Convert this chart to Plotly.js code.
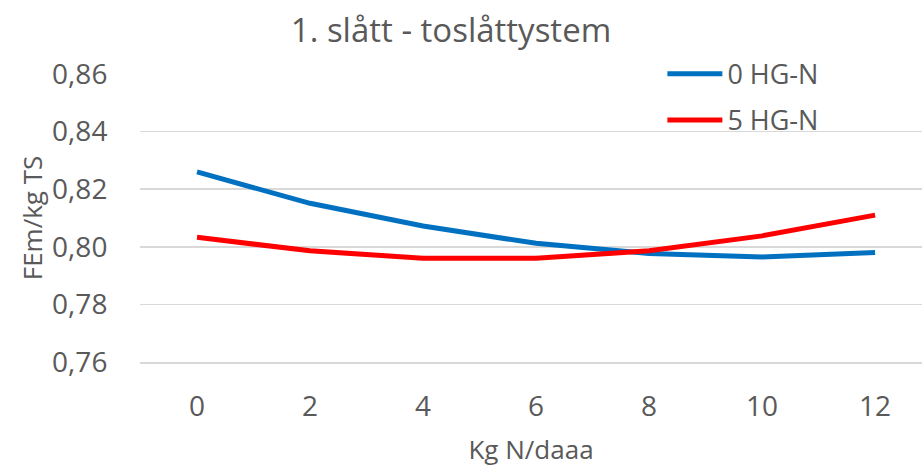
<!DOCTYPE html>
<html>
<head>
<meta charset="utf-8">
<script src="https://cdn.plot.ly/plotly-3.0.1.min.js"></script>
<style>html,body{margin:0;padding:0;background:#fff;}#chart{width:922px;height:467px;}</style>
</head>
<body>
<div id="chart"></div>
<script>
const kgN = [0, 2, 4, 6, 8, 10, 12];
const hg0 = [0.8260, 0.8151, 0.8072, 0.8012, 0.7977, 0.7965, 0.7980];
const hg5 = [0.8033, 0.7986, 0.7960, 0.7960, 0.7986, 0.8038, 0.8110];
const seriesNames = ['0 HG-N', '5 HG-N'];
const yTicks = [0.76, 0.78, 0.80, 0.82, 0.84, 0.86];
const yTickText = ['0,76', '0,78', '0,80', '0,82', '0,84', '0,86'];

const font = 'Open Sans, Noto Sans, sans-serif';
const grey = '#595959';

const traces = [
  {x: kgN, y: hg0, name: seriesNames[0], mode: 'lines', legendgroup: 'a',
   line: {color: '#0070C0', width: 5}},
  {x: kgN, y: hg5, name: seriesNames[1], mode: 'lines', legendgroup: 'b',
   line: {color: '#FF0000', width: 5}}
];

const layout = {
  width: 922, height: 467,
  margin: {l: 140, r: 0, t: 74, b: 105},
  paper_bgcolor: '#fff', plot_bgcolor: '#fff',
  font: {family: font, color: grey, size: 27},
  title: {text: '1. slått - toslåttystem', font: {family: font, size: 33, color: grey},
          x: 451/922, xanchor: 'center', y: 0.935, yanchor: 'middle'},
  xaxis: {
    range: [-1.009, 12.83], tickvals: kgN, ticktext: kgN.map(String),
    showgrid: false, zeroline: false,
    showline: true, linecolor: '#D9D9D9', linewidth: 1.5,
    ticks: 'outside', ticklen: 19, tickcolor: 'rgba(0,0,0,0)',
    tickfont: {family: font, size: 28, color: grey},
    title: {text: 'Kg N/daaa', font: {family: font, size: 26, color: grey}, standoff: 18}
  },
  yaxis: {
    range: [0.76, 0.86], tickvals: yTicks, ticktext: yTickText,
    showgrid: true, gridcolor: '#D9D9D9', gridwidth: 1.5, zeroline: false, showline: false,
    ticks: 'outside', ticklen: 26, tickcolor: 'rgba(0,0,0,0)',
    tickfont: {family: font, size: 28, color: grey},
    title: {text: 'FEm/kg TS', font: {family: font, size: 26, color: grey}, standoff: 2}
  },
  showlegend: true,
  legend: {
    x: 0.668, xanchor: 'left', y: 1.084, yanchor: 'top',
    bgcolor: 'rgba(0,0,0,0)', font: {family: font, size: 27, color: grey},
    tracegroupgap: 8, itemwidth: 55, traceorder: 'grouped'
  }
};

Plotly.newPlot('chart', traces, layout, {displayModeBar: false, staticPlot: true});
</script>
</body>
</html>
